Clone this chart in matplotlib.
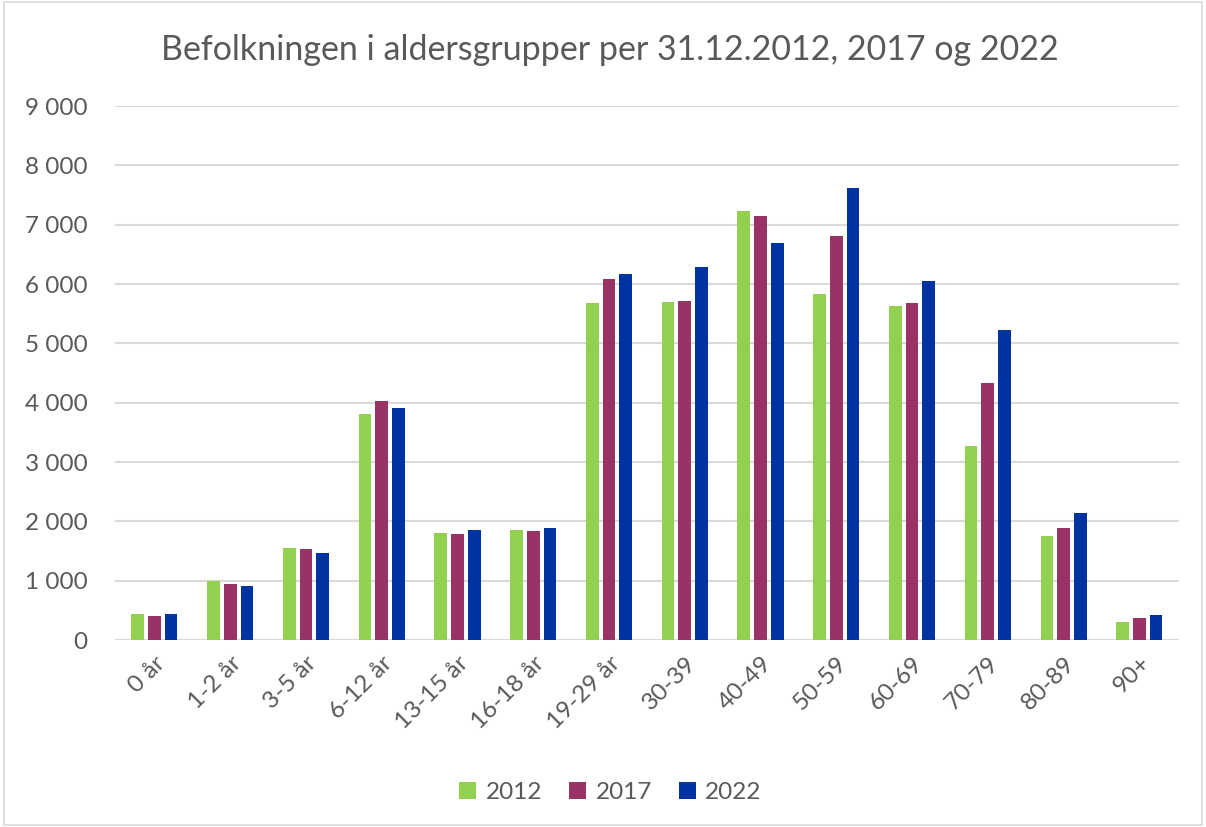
import matplotlib
matplotlib.use("Agg")
import matplotlib.pyplot as plt
from matplotlib.patches import Rectangle
import numpy as np

plt.rcParams['font.family'] = ['Lato', 'DejaVu Sans']

# aldersgrupper
groups = ['0 år', '1-2 år', '3-5 år', '6-12 år', '13-15 år', '16-18 år', '19-29 år',
          '30-39', '40-49', '50-59', '60-69', '70-79', '80-89', '90+']
years = ['2012', '2017', '2022']
v2012 = [440, 995, 1550, 3816, 1810, 1850, 5680, 5690, 7231, 5826, 5622, 3276, 1751, 302]
v2017 = [405, 938, 1528, 4024, 1780, 1840, 6079, 5720, 7147, 6809, 5680, 4336, 1881, 370]
v2022 = [445, 916, 1460, 3906, 1860, 1880, 6169, 6293, 6697, 7619, 6050, 5230, 2143, 430]
colors = ['#92D050', '#993366', '#0033A0']
txt = '#595959'

fig = plt.figure(figsize=(12.06, 8.27), dpi=100)
ax = fig.add_axes([0.0954, 0.2261, 0.8826, 0.6457])

x = np.arange(len(groups))
step = 0.22
w = 0.168
for i, (vals, lab) in enumerate(zip([v2012, v2017, v2022], years)):
    ax.bar(x + (i - 1) * step, vals, width=w, color=colors[i], label=lab, zorder=3)

ax.set_xlim(-0.52, 13.53)
ax.set_ylim(0, 9000)
ax.set_yticks(range(0, 9001, 1000))
ax.set_yticklabels([f'{v:,}'.replace(',', ' ') for v in range(0, 9001, 1000)],
                   fontsize=17.5, color=txt)
ax.set_xticks(x)
ax.set_xticklabels(groups, rotation=45, ha='right', rotation_mode='anchor',
                   fontsize=17.5, color=txt)
ax.tick_params(axis='y', length=0, pad=20)
ax.tick_params(axis='x', length=0, pad=9)
ax.grid(axis='y', color='#D9D9D9', linewidth=1.5, zorder=0)
for s in ax.spines.values():
    s.set_visible(False)

fig.suptitle('Befolkningen i aldersgrupper per 31.12.2012, 2017 og 2022',
             x=0.506, y=0.959, fontsize=24.5, color=txt)

fig.legend(loc='center', bbox_to_anchor=(0.506, 0.042), ncol=3, frameon=False,
           fontsize=17.5, labelcolor=txt, handlelength=0.7, handleheight=0.7,
           handletextpad=0.4, columnspacing=1.1)

fig.patches.append(Rectangle((0.003, 0.003), 0.994, 0.994, transform=fig.transFigure,
                             fill=False, edgecolor='#D9D9D9', linewidth=1.2))

fig.savefig('out.png', dpi=100)
